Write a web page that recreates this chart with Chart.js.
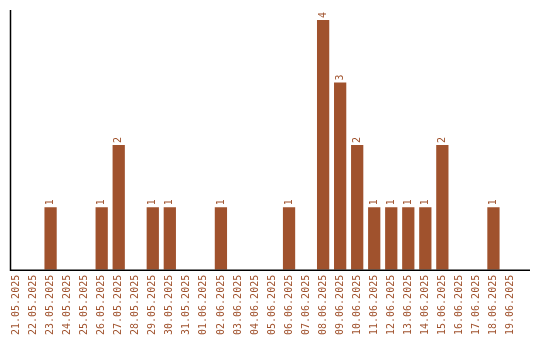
<!DOCTYPE html>
<html>
<head>
<meta charset="utf-8">
<script src="https://cdn.jsdelivr.net/npm/chart.js@4/dist/chart.umd.min.js"></script>
<style>
	html, body { margin: 0; padding: 0; background: #fff; }
	#wrap { width: 540px; height: 340px; }
</style>
</head>
<body>
<div id="wrap"><canvas id="grafico"></canvas></div>
<script>
var dias = [
	"21.05.2025", "22.05.2025", "23.05.2025", "24.05.2025", "25.05.2025",
	"26.05.2025", "27.05.2025", "28.05.2025", "29.05.2025", "30.05.2025",
	"31.05.2025", "01.06.2025", "02.06.2025", "03.06.2025", "04.06.2025",
	"05.06.2025", "06.06.2025", "07.06.2025", "08.06.2025", "09.06.2025",
	"10.06.2025", "11.06.2025", "12.06.2025", "13.06.2025", "14.06.2025",
	"15.06.2025", "16.06.2025", "17.06.2025", "18.06.2025", "19.06.2025"
];
var quantidades = [0, 0, 1, 0, 0, 1, 2, 0, 1, 1, 0, 0, 1, 0, 0, 0, 1, 0, 4, 3, 2, 1, 1, 1, 1, 2, 0, 0, 1, 0];

var marrom = "#a0522d";
var fonte = "'DejaVu Sans Mono', monospace";

// eixos e rotulos dos valores
var pluginEixos = {
	id: "eixos",
	afterDatasetsDraw: function (chart) {
		var ctx = chart.ctx;
		var area = chart.chartArea;
		ctx.save();
		ctx.strokeStyle = "#000";
		ctx.lineWidth = 1.5;
		ctx.beginPath();
		ctx.moveTo(10.5, 10);
		ctx.lineTo(10.5, area.bottom + 0.5);
		ctx.lineTo(530, area.bottom + 0.5);
		ctx.stroke();

		ctx.fillStyle = marrom;
		ctx.font = "10px " + fonte;
		ctx.textAlign = "left";
		ctx.textBaseline = "middle";
		var meta = chart.getDatasetMeta(0);
		meta.data.forEach(function (bar, i) {
			var v = quantidades[i];
			if (!v) return;
			ctx.save();
			ctx.translate(bar.x, bar.y - 2);
			ctx.rotate(-Math.PI / 2);
			ctx.fillText(String(v), 0, 0);
			ctx.restore();
		});
		ctx.restore();
	}
};

var config = {
	type: "bar",
	data: {
		labels: dias,
		datasets: [{
			data: quantidades,
			backgroundColor: marrom,
			borderWidth: 0
		}]
	},
	options: {
		responsive: true,
		maintainAspectRatio: false,
		animation: false,
		layout: {
			padding: { top: 20, left: 8, right: 21, bottom: 0 }
		},
		plugins: {
			legend: { display: false },
			tooltip: { enabled: false }
		},
		scales: {
			x: {
				grid: { display: false, drawTicks: false },
				border: { display: false },
				ticks: {
					color: marrom,
					font: { family: fonte, size: 10 },
					minRotation: 90,
					maxRotation: 90,
					autoSkip: false,
					padding: 5
				}
			},
			y: {
				display: false,
				min: 0,
				max: 4
			}
		}
	},
	plugins: [pluginEixos]
};

var ctx = document.getElementById("grafico").getContext("2d");
window.grafico = new Chart(ctx, config);
</script>
</body>
</html>
